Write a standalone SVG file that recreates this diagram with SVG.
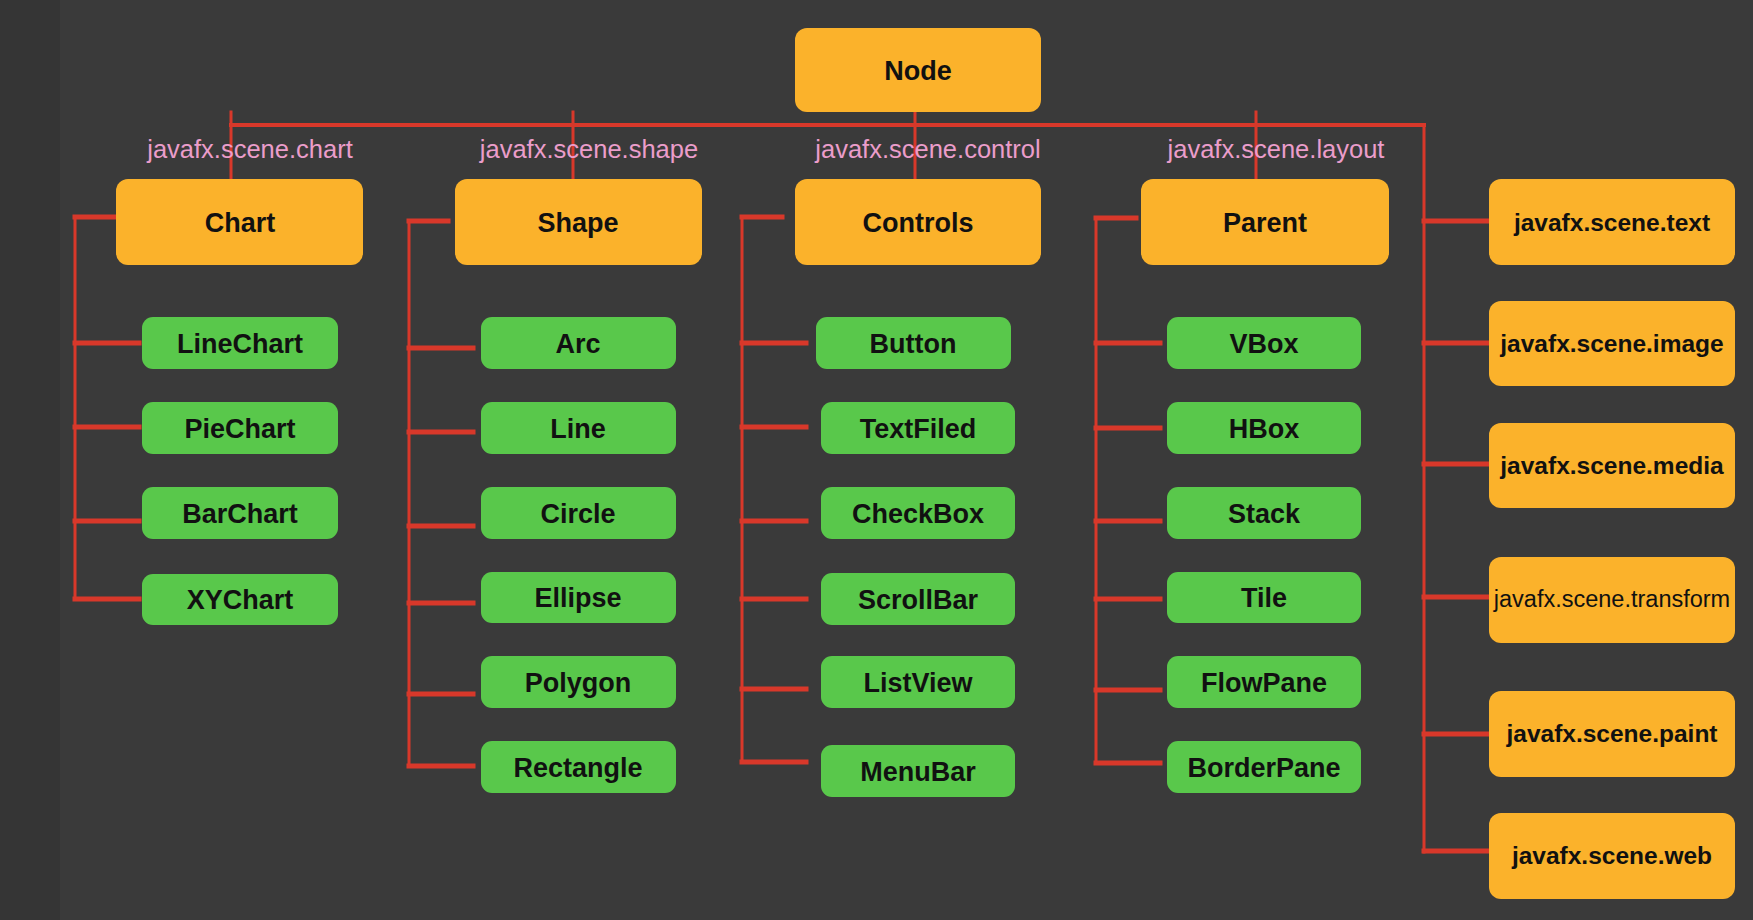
<svg xmlns="http://www.w3.org/2000/svg" width="1753" height="920" viewBox="0 0 1753 920">
<style>
.bg{fill:#3a3a3a}
.o{fill:#fbb22b}
.g{fill:#59c84b}
.t{font-family:"Liberation Sans",Arial,sans-serif;font-weight:bold;font-size:27px;fill:#111;text-anchor:middle}
.r{font-family:"Liberation Sans",Arial,sans-serif;font-weight:bold;font-size:24.5px;fill:#111;text-anchor:middle}
.p{font-family:"Liberation Sans",Arial,sans-serif;font-size:25.5px;fill:#eb9dca;text-anchor:middle}
.c line{stroke:#d8382a;stroke-width:3;stroke-linecap:square}
.c .b{stroke-width:5}
</style>
<rect class="bg" x="0" y="0" width="1753" height="920"/>
<rect x="0" y="0" width="60" height="920" fill="#353535"/>
<g class="c" id="connectors">
<line x1="231" y1="125" x2="1424" y2="125" class="b" style="stroke-width:4"/>
<line x1="231" y1="112" x2="231" y2="186"/>
<line x1="573" y1="112" x2="573" y2="186"/>
<line x1="915" y1="112" x2="915" y2="186"/>
<line x1="1256" y1="112" x2="1256" y2="186"/>
<line x1="1424" y1="125" x2="1424" y2="852"/>
<line x1="1424" y1="221" x2="1488" y2="221" class="b"/>
<line x1="1424" y1="343" x2="1488" y2="343" class="b"/>
<line x1="1424" y1="464" x2="1488" y2="464" class="b"/>
<line x1="1424" y1="597" x2="1488" y2="597" class="b"/>
<line x1="1424" y1="734" x2="1488" y2="734" class="b"/>
<line x1="1424" y1="851" x2="1488" y2="851" class="b"/>
<line x1="75" y1="217" x2="75" y2="599"/>
<line x1="75" y1="217" x2="116" y2="217" class="b"/>
<line x1="75" y1="343" x2="139" y2="343" class="b"/>
<line x1="75" y1="427" x2="139" y2="427" class="b"/>
<line x1="75" y1="521" x2="139" y2="521" class="b"/>
<line x1="75" y1="599" x2="139" y2="599" class="b"/>
<line x1="409" y1="221" x2="409" y2="766"/>
<line x1="409" y1="221" x2="448" y2="221" class="b"/>
<line x1="409" y1="348" x2="473" y2="348" class="b"/>
<line x1="409" y1="432" x2="473" y2="432" class="b"/>
<line x1="409" y1="526" x2="473" y2="526" class="b"/>
<line x1="409" y1="603" x2="473" y2="603" class="b"/>
<line x1="409" y1="694" x2="473" y2="694" class="b"/>
<line x1="409" y1="766" x2="473" y2="766" class="b"/>
<line x1="742" y1="217" x2="742" y2="762"/>
<line x1="742" y1="217" x2="782" y2="217" class="b"/>
<line x1="742" y1="343" x2="806" y2="343" class="b"/>
<line x1="742" y1="427" x2="806" y2="427" class="b"/>
<line x1="742" y1="521" x2="806" y2="521" class="b"/>
<line x1="742" y1="599" x2="806" y2="599" class="b"/>
<line x1="742" y1="689" x2="806" y2="689" class="b"/>
<line x1="742" y1="762" x2="806" y2="762" class="b"/>
<line x1="1096" y1="218" x2="1096" y2="763"/>
<line x1="1096" y1="218" x2="1136" y2="218" class="b"/>
<line x1="1096" y1="343" x2="1160" y2="343" class="b"/>
<line x1="1096" y1="428" x2="1160" y2="428" class="b"/>
<line x1="1096" y1="521" x2="1160" y2="521" class="b"/>
<line x1="1096" y1="599" x2="1160" y2="599" class="b"/>
<line x1="1096" y1="690" x2="1160" y2="690" class="b"/>
<line x1="1096" y1="763" x2="1160" y2="763" class="b"/>
</g>
<g id="labels">
<text class="p" x="250" y="158">javafx.scene.chart</text>
<text class="p" x="589" y="158">javafx.scene.shape</text>
<text class="p" x="928" y="158">javafx.scene.control</text>
<text class="p" x="1276" y="158">javafx.scene.layout</text>
</g>
<g id="node"><rect class="o" x="795" y="28" width="246" height="84" rx="12"/><text class="t" x="918" y="80">Node</text></g>
<g id="chart"><rect class="o" x="116" y="179" width="247" height="86" rx="12"/><text class="t" x="240" y="232">Chart</text></g>
<g id="shape"><rect class="o" x="455" y="179" width="247" height="86" rx="12"/><text class="t" x="578" y="232">Shape</text></g>
<g id="controls"><rect class="o" x="795" y="179" width="246" height="86" rx="12"/><text class="t" x="918" y="232">Controls</text></g>
<g id="parent"><rect class="o" x="1141" y="179" width="248" height="86" rx="12"/><text class="t" x="1265" y="232">Parent</text></g>
<g id="text"><rect class="o" x="1489" y="179" width="246" height="86" rx="12"/><text class="r" x="1612" y="231">javafx.scene.text</text></g>
<g id="image"><rect class="o" x="1489" y="301" width="246" height="85" rx="12"/><text class="r" x="1612" y="352">javafx.scene.image</text></g>
<g id="media"><rect class="o" x="1489" y="423" width="246" height="85" rx="12"/><text class="r" x="1612" y="474">javafx.scene.media</text></g>
<g id="transform"><rect class="o" x="1489" y="557" width="246" height="86" rx="12"/><text class="r" x="1612" y="607" style="font-weight:normal;font-size:23.5px">javafx.scene.transform</text></g>
<g id="paint"><rect class="o" x="1489" y="691" width="246" height="86" rx="12"/><text class="r" x="1612" y="742">javafx.scene.paint</text></g>
<g id="web"><rect class="o" x="1489" y="813" width="246" height="86" rx="12"/><text class="r" x="1612" y="864">javafx.scene.web</text></g>
<g id="linechart"><rect class="g" x="142" y="317" width="196" height="52" rx="11"/><text class="t" x="240" y="353">LineChart</text></g>
<g id="piechart"><rect class="g" x="142" y="402" width="196" height="52" rx="11"/><text class="t" x="240" y="438">PieChart</text></g>
<g id="barchart"><rect class="g" x="142" y="487" width="196" height="52" rx="11"/><text class="t" x="240" y="523">BarChart</text></g>
<g id="xychart"><rect class="g" x="142" y="574" width="196" height="51" rx="11"/><text class="t" x="240" y="609">XYChart</text></g>
<g id="arc"><rect class="g" x="481" y="317" width="195" height="52" rx="11"/><text class="t" x="578" y="353">Arc</text></g>
<g id="line"><rect class="g" x="481" y="402" width="195" height="52" rx="11"/><text class="t" x="578" y="438">Line</text></g>
<g id="circle"><rect class="g" x="481" y="487" width="195" height="52" rx="11"/><text class="t" x="578" y="523">Circle</text></g>
<g id="ellipse"><rect class="g" x="481" y="572" width="195" height="51" rx="11"/><text class="t" x="578" y="607">Ellipse</text></g>
<g id="polygon"><rect class="g" x="481" y="656" width="195" height="52" rx="11"/><text class="t" x="578" y="692">Polygon</text></g>
<g id="rectangle"><rect class="g" x="481" y="741" width="195" height="52" rx="11"/><text class="t" x="578" y="777">Rectangle</text></g>
<g id="button"><rect class="g" x="816" y="317" width="195" height="52" rx="11"/><text class="t" x="913" y="353">Button</text></g>
<g id="textfiled"><rect class="g" x="821" y="402" width="194" height="52" rx="11"/><text class="t" x="918" y="438">TextFiled</text></g>
<g id="checkbox"><rect class="g" x="821" y="487" width="194" height="52" rx="11"/><text class="t" x="918" y="523">CheckBox</text></g>
<g id="scrollbar"><rect class="g" x="821" y="573" width="194" height="52" rx="11"/><text class="t" x="918" y="609">ScrollBar</text></g>
<g id="listview"><rect class="g" x="821" y="656" width="194" height="52" rx="11"/><text class="t" x="918" y="692">ListView</text></g>
<g id="menubar"><rect class="g" x="821" y="745" width="194" height="52" rx="11"/><text class="t" x="918" y="781">MenuBar</text></g>
<g id="vbox"><rect class="g" x="1167" y="317" width="194" height="52" rx="11"/><text class="t" x="1264" y="353">VBox</text></g>
<g id="hbox"><rect class="g" x="1167" y="402" width="194" height="52" rx="11"/><text class="t" x="1264" y="438">HBox</text></g>
<g id="stack"><rect class="g" x="1167" y="487" width="194" height="52" rx="11"/><text class="t" x="1264" y="523">Stack</text></g>
<g id="tile"><rect class="g" x="1167" y="572" width="194" height="51" rx="11"/><text class="t" x="1264" y="607">Tile</text></g>
<g id="flowpane"><rect class="g" x="1167" y="656" width="194" height="52" rx="11"/><text class="t" x="1264" y="692">FlowPane</text></g>
<g id="borderpane"><rect class="g" x="1167" y="741" width="194" height="52" rx="11"/><text class="t" x="1264" y="777">BorderPane</text></g>
</svg>
